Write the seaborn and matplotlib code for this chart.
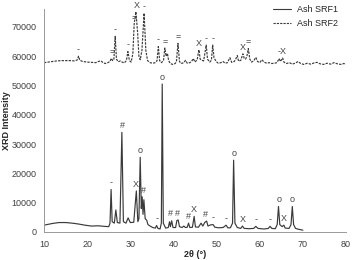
import matplotlib
matplotlib.use("Agg")
import matplotlib.pyplot as plt
import pandas as pd
import seaborn as sns

# Ash SRF1 (solid) - 2theta / intensity pairs
theta_srf1 = [10, 11, 12, 13.5, 15, 16.5, 18, 19.5, 21, 22.5, 24, 25,
              25.3, 25.55, 25.8, 26.3, 26.65, 27.0, 27.6, 28.05, 28.4, 29.0, 29.5, 30.0,
              30.8, 31.4, 31.75, 32.0, 32.3, 32.55, 32.75, 32.95, 33.15, 33.45, 33.8, 34.1,
              34.6, 35.2, 35.8, 36.1, 36.4, 36.9, 37.2, 37.4, 37.65, 38.2, 38.8, 39.1,
              39.3, 39.6, 39.9, 40.5, 40.8, 41.1, 41.4, 42.0, 42.4, 42.8, 43.2, 43.5,
              43.8, 44.4, 44.8, 45.1, 45.8, 46.4, 46.8, 47.3, 47.7, 48.0, 48.6, 49.2,
              49.6, 50.5, 51.5, 52.2, 52.6, 53.2, 53.7, 53.95, 54.25, 54.8, 55.6, 56.0,
              56.4, 57.5, 58.6, 59.1, 59.6, 61.0, 62.0, 62.4, 62.8, 63.6, 64.05, 64.35,
              64.65, 65.2, 65.6, 65.9, 66.8, 67.25, 67.55, 67.85, 68.3, 69.0, 70.0]
int_srf1 = [2300, 2600, 2900, 3200, 3200, 3000, 2700, 2300, 2000, 2100, 1900, 1800,
            3000, 14500, 3500, 3000, 7500, 3200, 3000, 34000, 3500, 3000, 4800, 3200,
            3300, 14000, 3500, 4500, 25500, 8000, 12000, 6000, 11000, 4500, 4000, 2500,
            2000, 1500, 1300, 2200, 1200, 1000, 3000, 50500, 3000, 1300, 1500, 3500,
            1800, 3800, 1500, 1500, 3900, 4100, 1800, 1500, 2000, 1500, 1600, 3000,
            1500, 1600, 5300, 1700, 1600, 3000, 2000, 3300, 3700, 2000, 2400, 2500,
            1600, 1400, 1500, 2300, 1400, 1400, 3000, 24500, 3000, 1500, 1200, 2000,
            1200, 1100, 1200, 1900, 1200, 1000, 1200, 1900, 1200, 1100, 2500, 8700,
            2500, 1800, 2300, 1300, 1200, 2500, 8700, 2500, 1200, 900, 600]

# Ash SRF2 (dashed, offset pattern)
theta_srf2 = [10, 11, 12, 13, 14, 15, 16, 17, 17.7, 18.0, 18.3, 19, 20, 21, 22,
              22.8, 23.2, 23.7, 24.2, 24.8, 25.3, 25.6, 25.9, 26.2, 26.5, 26.8, 27.2,
              27.7, 28.1, 28.6, 29.1, 29.45, 29.8, 30.2, 30.6, 30.9, 31.3, 31.7, 32.0,
              32.3, 32.7, 33.2, 33.6, 34.0, 34.6, 35.2, 35.8, 36.2, 36.5, 36.8, 37.2,
              37.7, 38.0, 38.3, 38.6, 38.9, 39.3, 39.8, 40.4, 40.7, 41.05, 41.4, 41.8,
              42.4, 42.8, 43.2, 43.8, 44.2, 44.6, 45.0, 45.5, 45.9, 46.2, 46.6, 47.0,
              47.6, 47.9, 48.4, 48.8, 49.1, 49.4, 49.9, 50.4, 51.0, 51.5, 52.0, 52.5,
              53.1, 53.5, 54.1, 54.5, 54.8, 55.1, 55.6, 56.1, 56.4, 56.7, 57.0, 57.35,
              57.7, 58.1, 58.6, 59.1, 59.5, 60.0, 60.5, 61.0, 61.6, 62.2, 62.8, 63.4,
              64.0, 64.5, 64.8, 65.3, 65.6, 66.2, 66.9, 67.5, 68.2, 68.9, 69.5, 70.2,
              71.0, 71.8, 72.6, 73.3, 74.0, 74.8, 75.6, 76.4, 77.2, 78.0, 78.8, 79.5, 80.0]
int_srf2 = [57800, 58000, 58200, 58400, 58500, 58500, 58500, 58400, 58700, 60000, 58600, 58200, 58000, 57900, 57800,
            58300, 58400, 57800, 57500, 57800, 58200, 59300, 58500, 59000, 66800, 59000, 58100,
            58400, 58000, 57700, 58500, 61600, 58500, 58000, 61000, 71000, 75200, 68000, 60000,
            58800, 62000, 74700, 62000, 58500, 57800, 57600, 57800, 58500, 63300, 58500, 57800,
            58500, 62800, 60000, 61000, 58400, 57500, 57200, 57500, 58200, 64400, 58200, 57500,
            57800, 58600, 57600, 57800, 58200, 59200, 58000, 58800, 62200, 59000, 58600, 58400,
            63800, 59000, 58000, 58600, 63800, 59500, 58200, 57600, 57800, 58200, 57600, 57800,
            59500, 57900, 58200, 59200, 60200, 58300, 58600, 60800, 59300, 59000, 59800, 62600,
            59000, 58000, 58400, 59600, 58200, 57800, 58800, 58000, 57600, 57800, 57500, 57600,
            57800, 59200, 58200, 59400, 58000, 57500, 57800, 57300, 57600, 58200, 57500, 57200,
            57600, 57300, 57700, 57900, 57400, 57200, 57600, 57300, 57800, 57400, 57200, 57500, 57300]

# phase markers: (symbol, 2theta, intensity where the symbol sits)
marks_srf1 = [("-", 25.55, 14500), ("#", 28.1, 34000), ("X", 31.3, 14000), ("o", 32.3, 25500),
              ("#", 33.0, 12000), ("-", 36.1, 2200), ("o", 37.4, 50500), ("#", 39.3, 3900),
              ("#", 40.9, 4100), ("#", 43.4, 3000), ("X", 44.8, 5300), ("#", 47.5, 3700),
              ("-", 49.1, 2500), ("-", 52.2, 2300), ("o", 54.0, 24500), ("X", 56.1, 2000),
              ("-", 59.1, 1900), ("-", 62.4, 1900), ("o", 64.4, 8700), ("X", 65.6, 2300),
              ("o", 67.6, 8700)]
marks_srf2 = [("-", 18.0, 60000), ("=", 25.7, 59300), ("-", 26.5, 66800), ("-", 29.45, 61600),
              ("=", 30.8, 71000), ("X", 31.6, 75200), ("-", 33.2, 74700), ("-", 36.5, 63300),
              ("=", 38.0, 62800), ("=", 41.05, 64400), ("X", 45.9, 62200), ("-", 47.6, 63800),
              ("-", 49.1, 63800), ("X", 56.1, 60800), ("=", 57.35, 62600), ("-", 64.5, 59200),
              ("X", 65.4, 59400)]

x_ticks = [10, 20, 30, 40, 50, 60, 70, 80]
y_ticks = [0, 10000, 20000, 30000, 40000, 50000, 60000, 70000]

sns.set_style("white")
plt.rcParams["font.family"] = ["Liberation Sans", "DejaVu Sans"]

df = pd.concat([
    pd.DataFrame({"theta": theta_srf1, "intensity": int_srf1, "sample": "Ash SRF1"}),
    pd.DataFrame({"theta": theta_srf2, "intensity": int_srf2, "sample": "Ash SRF2"}),
])

fig = plt.figure(figsize=(3.52, 2.6), dpi=100)
ax = fig.add_axes([0.125, 0.108, 0.858, 0.856])

sns.lineplot(data=df, x="theta", y="intensity", hue="sample", style="sample",
             palette={"Ash SRF1": "#3a3a3a", "Ash SRF2": "#3a3a3a"},
             dashes={"Ash SRF1": "", "Ash SRF2": (2, 1)},
             estimator=None, sort=False, linewidth=0.85, ax=ax)

for sym, t, v in marks_srf1 + marks_srf2:
    ax.annotate(sym, (t, v), xytext=(0, 1.5), textcoords="offset points",
                ha="center", va="bottom", fontsize=6.5, color="#444444")

ax.set_xlim(10, 80)
ax.set_ylim(0, 76000)
ax.set_xticks(x_ticks)
ax.set_yticks(y_ticks)
ax.tick_params(axis="both", labelsize=6.5, labelcolor="#404040", length=2.5,
               direction="out", width=0.6, color="#999999", pad=3)
for side in ["top", "right"]:
    ax.spines[side].set_visible(False)
for side in ["left", "bottom"]:
    ax.spines[side].set_color("#999999")
    ax.spines[side].set_linewidth(0.7)

ax.set_xlabel("2θ (°)", fontsize=6.5, fontweight="bold")
ax.set_ylabel("XRD Intensity", fontsize=6.5, fontweight="bold")
ax.xaxis.set_label_coords(0.5, -0.08)
ax.yaxis.set_label_coords(-0.11, 0.5)

leg = ax.legend(loc="upper right", bbox_to_anchor=(1.0, 1.055), frameon=False,
                fontsize=6.5, handlelength=2.0, handletextpad=0.6, labelspacing=0.55)
for line in leg.get_lines():
    line.set_linewidth(0.8)

fig.savefig("out.png", dpi=100)
